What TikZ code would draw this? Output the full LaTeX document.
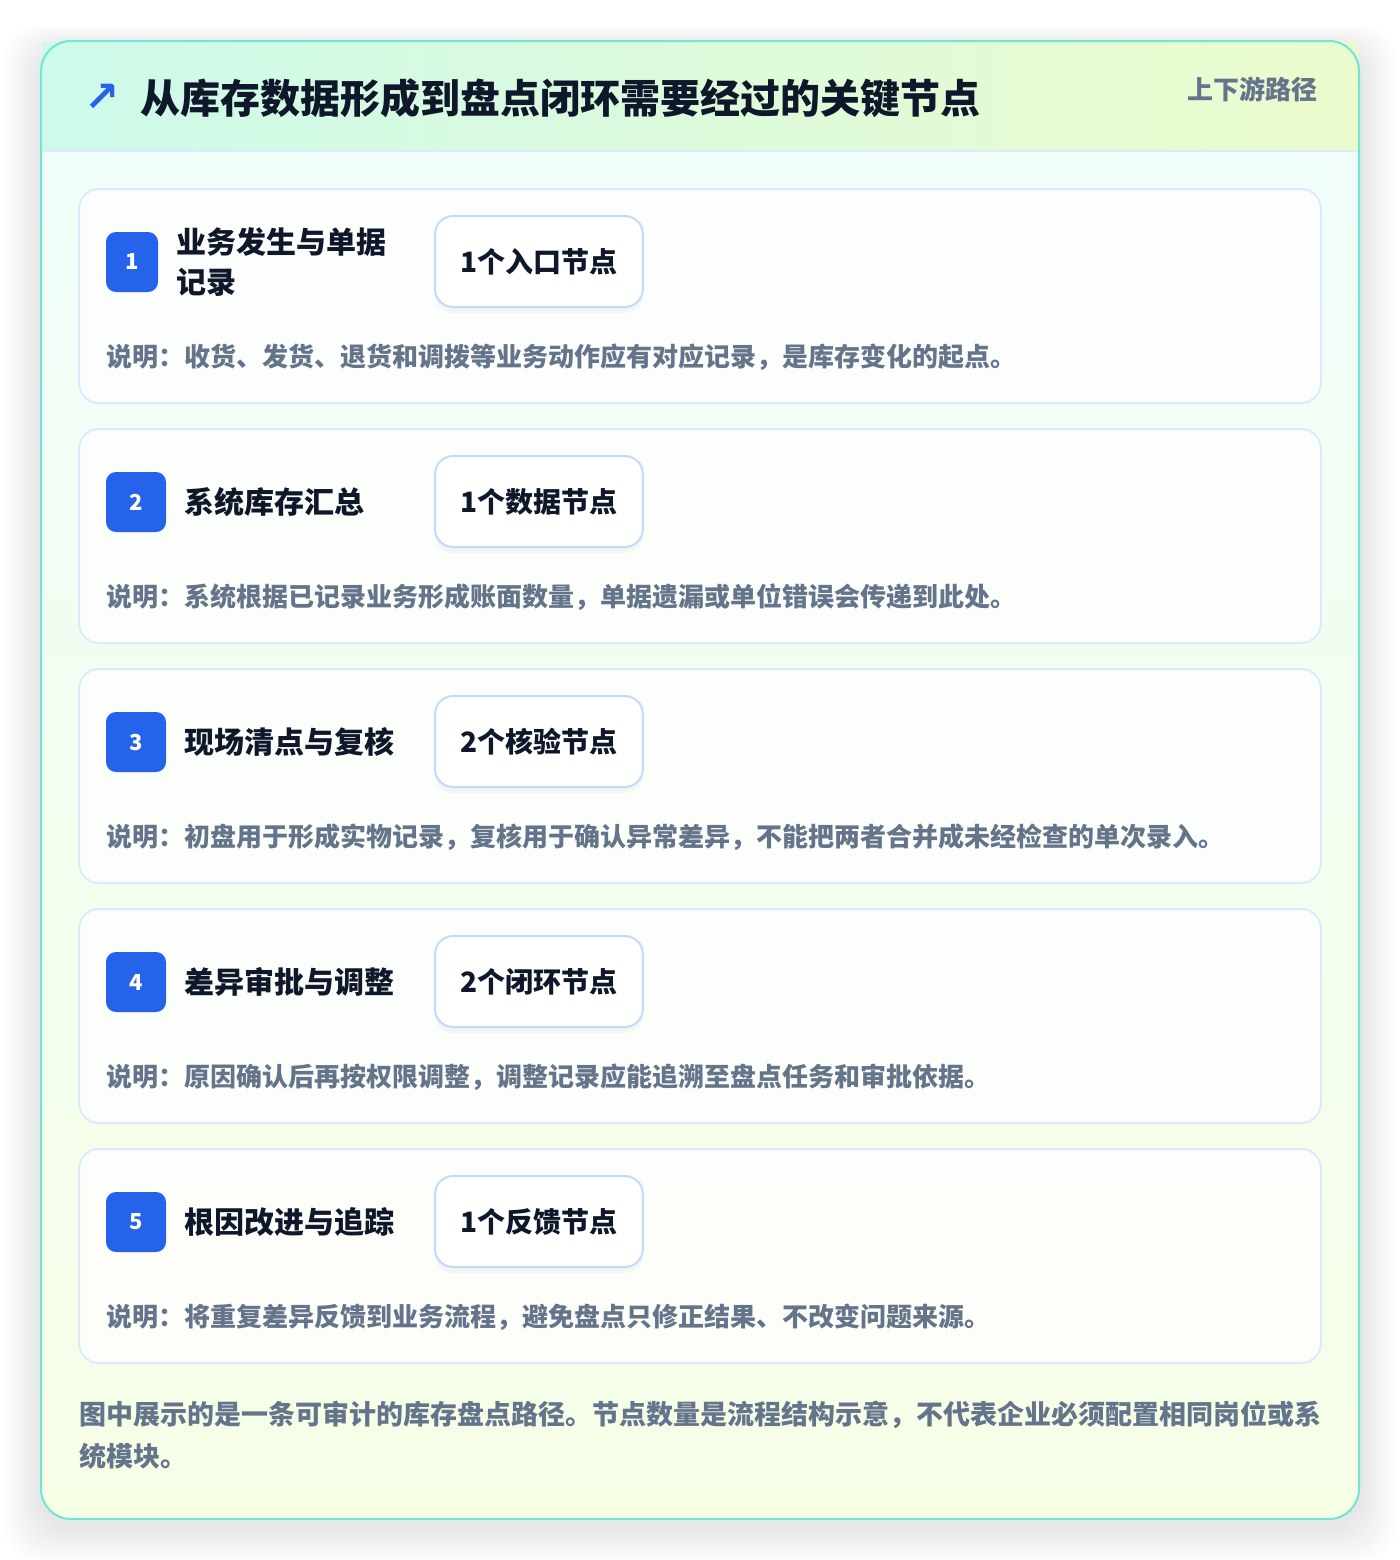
\documentclass[tikz,border=0pt]{standalone}
\usepackage{fontspec}
\setmainfont{Noto Sans CJK SC}
\newfontfamily\symfont{DejaVu Sans}
\usetikzlibrary{positioning, shadows}

\definecolor{frameline}{HTML}{6EE7D4}
\definecolor{headL}{HTML}{CDFAEA}
\definecolor{headR}{HTML}{ECFBCD}
\definecolor{bodyTop}{HTML}{F0FDFA}
\definecolor{bodyBot}{HTML}{F6FEE6}
\definecolor{cardline}{HTML}{DBEAFE}
\definecolor{chipline}{HTML}{BFDBFE}
\definecolor{badgeblue}{HTML}{2563EB}
\definecolor{ink}{HTML}{0F172A}
\definecolor{muted}{HTML}{64748B}

\begin{document}
\begin{tikzpicture}[x=0.5pt,y=-0.5pt,
        panel/.style={% For the outer frame
            draw=frameline,
            line width=1pt,
            rounded corners=15pt,
            },
        card/.style={% For each step box
            rectangle,
            rounded corners=10pt,
            draw=cardline,
            line width=1pt,
            fill=white,
            fill opacity=0.8,
            minimum width=621pt,
            minimum height=107pt,
            inner sep=0pt,
            },
        badge/.style={% For the blue number squares
            rectangle,
            rounded corners=5pt,
            fill=badgeblue,
            text=white,
            minimum height=30pt,
            inner sep=0pt,
            font=\fontsize{11}{13}\selectfont\bfseries,
            },
        steptitle/.style={% For the step names
            anchor=west,
            align=left,
            inner sep=0pt,
            text=ink,
            font=\fontsize{15}{20}\selectfont\bfseries,
            },
        chip/.style={% For the node counts
            rectangle,
            rounded corners=9pt,
            draw=chipline,
            line width=1pt,
            fill=white,
            drop shadow={opacity=0.06, shadow xshift=0pt, shadow yshift=-3pt},
            minimum height=45.5pt,
            inner xsep=12.7pt,
            text=ink,
            font=\fontsize{14}{16}\selectfont\bfseries,
            },
        note/.style={% For the explanations
            anchor=west,
            inner sep=0pt,
            text=muted,
            font=\fontsize{13}{16}\selectfont\bfseries,
            },
            ]
        \useasboundingbox (0,0) rectangle (1400,1560);
        \fill[white] (0,0) rectangle (1400,1560);
        % soft shadow round the frame
        \foreach \k in {1,...,12}
            \fill[black,opacity=0.008,rounded corners=18pt] (41-3*\k,41-2*\k+8) rectangle (1359+3*\k,1519+3*\k+8);
        \shade[top color=bodyTop,bottom color=bodyBot,rounded corners=15pt] (41,41) rectangle (1359,1519);
        % header band
        \shade[left color=headL,right color=headR] (42,42) rectangle (1358,151);
        \draw[cardline,line width=1pt] (42,151) -- (1358,151);
        \draw[panel] (41,41) rectangle (1359,1519);
        \node[anchor=west,inner sep=0pt,text=ink,font=\fontsize{20}{24}\selectfont\bfseries] (head) at (140,98) {从库存数据形成到盘点闭环需要经过的关键节点};
        \node[anchor=center,inner sep=0pt,text=badgeblue,font=\fontsize{21}{24}\selectfont\symfont\bfseries] (icon) at (102,98) {↗};
        \node[anchor=east,inner sep=0pt,text=muted,font=\fontsize{13}{16}\selectfont\bfseries] (scope) at (1318,89) {上下游路径};
        % steps
        \foreach \i/\bw/\name/\chiptext/\desc in {
            1/26/业务发生与单据\\记录/1个入口节点/说明：收货、发货、退货和调拨等业务动作应有对应记录，是库存变化的起点。,
            2/30/系统库存汇总/1个数据节点/说明：系统根据已记录业务形成账面数量，单据遗漏或单位错误会传递到此处。,
            3/30/现场清点与复核/2个核验节点/说明：初盘用于形成实物记录，复核用于确认异常差异，不能把两者合并成未经检查的单次录入。,
            4/30/差异审批与调整/2个闭环节点/说明：原因确认后再按权限调整，调整记录应能追溯至盘点任务和审批依据。,
            5/30/根因改进与追踪/1个反馈节点/说明：将重复差异反馈到业务流程，避免盘点只修正结果、不改变问题来源。}{
            \pgfmathsetmacro\ytop{189+240*(\i-1)}
            \node[card] (card\i) at (700,\ytop+107) {};
            \node[badge,minimum width=\bw pt] (badge\i) at (106+\bw,\ytop+73) {\i};
            \node[steptitle,right=9pt of badge\i] (title\i) {\name};
            \node[chip,anchor=west] (chip\i) at (434,\ytop+72.5) {\chiptext};
            \node[note] (note\i) at (106,\ytop+168) {\desc};
        }
        % footer
        \node[anchor=west,align=left,inner sep=0pt,text=muted,font=\fontsize{13.5}{21}\selectfont\bfseries] (foot) at (79,1435) {图中展示的是一条可审计的库存盘点路径。节点数量是流程结构示意，不代表企业必须配置相同岗位或系\\统模块。};
\end{tikzpicture}
\end{document}
